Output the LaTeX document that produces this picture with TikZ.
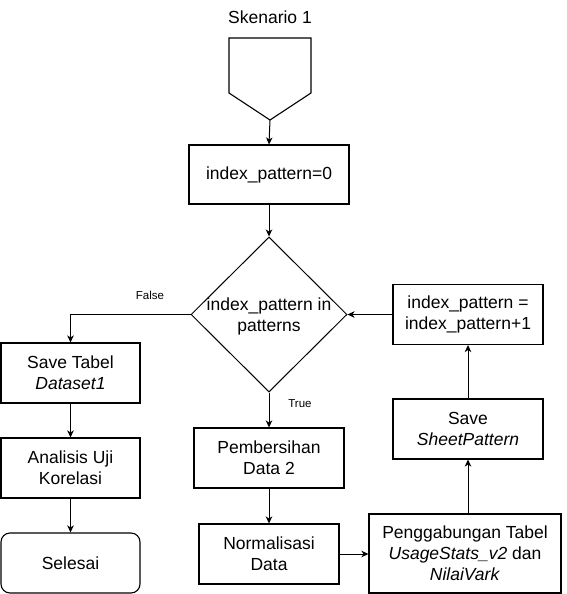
\documentclass[tikz,border=0pt]{standalone}
\usepackage{fontspec}
\setmainfont{Liberation Sans}
\usetikzlibrary{arrows.meta,shapes.geometric}
\begin{document}
\begin{tikzpicture}[x=1pt,y=-1pt,
  every node/.style={font=\fontsize{17.5}{21}\selectfont},
  box/.style={draw, line width=1.1pt, align=center, inner sep=0pt},
  conn/.style={-{Stealth[length=7pt,width=6.5pt,inset=2pt]}, line width=1pt},
  lbl/.style={font=\fontsize{11.5}{13}\selectfont}]
\useasboundingbox (0,0) rectangle (566,594);
\fill[white] (0,0) rectangle (566,594);

\node (title) at (270,17) {Skenario 1};
\draw[line width=1.1pt] (229,38) -- (311,38) -- (311,93) -- (270,120) -- (229,93) -- cycle;
\coordinate (tip) at (270,120);

\node[box, minimum width=160pt, minimum height=59pt] (b1) at (269,174.5) {index\_pattern=0};

\node[draw, line width=1pt, diamond, minimum width=156pt, minimum height=155pt, inner sep=0pt] (dia) at (269,314.5) {};
\node[align=center] (diatxt) at (269,316) {index\_pattern in\\patterns};

\node[box, minimum width=139pt, minimum height=60pt] (s1) at (70.5,373) {Save Tabel\\\textit{Dataset1}};
\node[box, minimum width=139pt, minimum height=60pt] (an) at (70.5,468) {Analisis Uji\\Korelasi};
\node[box, rounded corners=9pt, minimum width=139pt, minimum height=60pt] (sel) at (70.5,563) {Selesai};

\node[box, minimum width=150pt, minimum height=60pt] (pb) at (269,458) {Pembersihan\\Data 2};
\node[box, minimum width=140pt, minimum height=60pt] (nm) at (269,554) {Normalisasi\\Data};
\node[box, minimum width=192pt, minimum height=79pt] (pg) at (465,553.5) {Penggabungan Tabel\\\textit{UsageStats\_v2} dan\\\textit{NilaiVark}};
\node[box, minimum width=150pt, minimum height=60pt] (ss) at (468,429) {Save\\\textit{SheetPattern}};
\node[box, minimum width=150pt, minimum height=60pt] (ip) at (468,314.5) {index\_pattern =\\index\_pattern+1};

\draw[conn] (tip) -- (b1.north);
\draw[conn] (b1.south) -- (dia.north);
\draw[conn] (dia.west) -| (s1.north);
\draw[conn] (s1.south) -- (an.north);
\draw[conn] (an.south) -- (sel.north);
\draw[conn] (dia.south) -- (pb.north);
\draw[conn] (pb.south) -- (nm.north);
\draw[conn] (nm.east) -- (nm.east -| pg.west);
\draw[conn] (ss.south |- pg.north) -- (ss.south);
\draw[conn] (ss.north) -- (ip.south);
\draw[conn] (ip.west) -- (dia.east);

\node[lbl] (lf) at (150,295) {False};
\node[lbl] (lt) at (300,404) {True};
\end{tikzpicture}
\end{document}
